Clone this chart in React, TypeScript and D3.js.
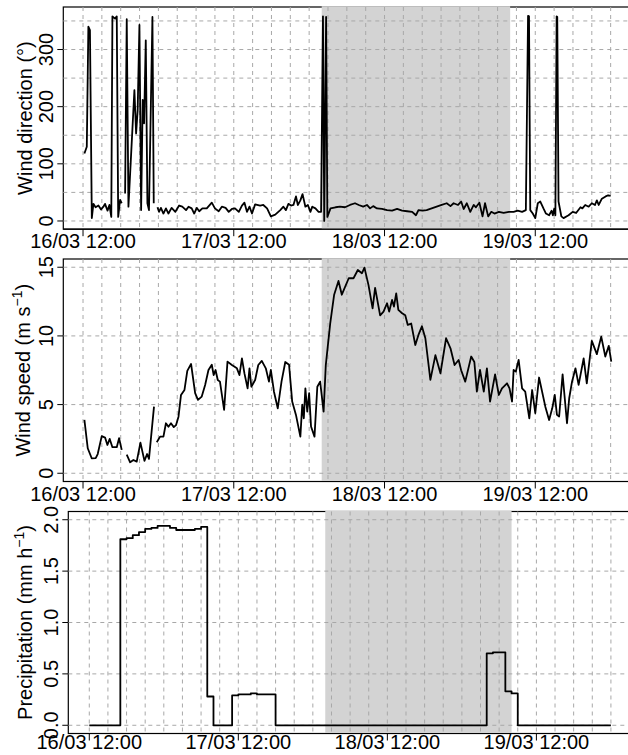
import React, { useEffect, useRef } from "react";
import * as d3 from "d3";

// time origin: 16/03 12:00, all times below are hours after it
const T0 = Date.UTC(2016, 2, 16, 12);

const tickHours = [0, 24, 48, 72];
const tickLabels = ["16/03 12:00", "17/03 12:00", "18/03 12:00", "19/03 12:00"];

// shaded period (18/03 02:00 - 19/03 08:00)
const shadeHours = [38, 68];

const dirTicks = [0, 100, 200, 300];
const dirGrid = [0, 50, 100, 150, 200, 250, 300, 350];
const speedTicks = [0, 5, 10, 15];
const precipTicks = [0, 0.5, 1, 1.5, 2];
const precipTickLabels = ["0.0", "0.5", "1.0", "1.5", "2.0"];

// wind direction (deg), [hour, value], null = missing
const windDirection: [number, number | null][] = [
  [0.22, 118], [0.6, 130], [0.85, 340], [1.1, 334], [1.4, 5], [1.65, 30], [2.0, 24], [2.45, 27],
  [2.87, 20], [3.24, 25], [3.5, 30], [3.9, 18], [4.2, 28], [4.5, 7], [4.68, 358], [5.1, 354],
  [5.37, 358], [5.6, 7], [5.9, 37], [6.16, 31], [6.4, null],
  [6.7, 48], [6.96, 353], [7.23, 25], [8.18, 229], [8.45, 153], [8.7, 194], [8.98, 343], [9.25, 19],
  [9.5, 212], [9.72, 171], [9.99, 316], [10.25, 31], [10.5, 19], [11.05, 357], [11.26, 31], [11.5, null],
  [11.85, 24], [12.1, 16], [12.4, 23], [12.8, 13], [13.2, 22], [13.6, 13], [14.1, 23], [14.7, 16],
  [15.3, 27], [15.8, 25], [16.4, 19], [16.8, 25], [17.3, 22], [17.7, 13], [18.1, 23], [18.5, 17],
  [19.0, 22], [19.7, 22], [20.5, 32], [21.0, 22], [21.6, 17], [22.1, 25], [22.7, 23], [23.2, 16],
  [23.7, 21], [24.2, 22], [24.8, 16], [25.3, 27], [25.7, 32], [26.1, 16], [26.5, 25], [26.9, 13],
  [27.4, 29], [28.2, 27], [28.7, 28], [29.3, 22], [29.9, 8], [30.6, 11], [31.4, 19], [31.9, 25],
  [32.3, 19], [32.7, 30], [33.1, 27], [33.5, 28], [33.9, 43], [34.2, 28], [34.6, 36], [34.95, 47],
  [35.4, 25], [35.8, 28], [36.2, 16], [36.5, 25], [37.0, 22], [37.5, 16], [37.9, 16], [38.2, 358],
  [38.4, 0], [38.7, 357], [38.9, 7], [39.4, 22], [40.2, 24], [40.9, 25], [41.7, 24], [42.5, 28],
  [43.3, 31], [43.9, 28], [44.6, 25], [45.2, 28], [45.7, 22], [46.2, 26], [46.8, 22], [47.6, 21],
  [48.4, 19], [49.2, 18], [50.0, 21], [50.8, 18], [51.6, 17], [52.4, 16], [53.0, 10], [53.4, 19],
  [54.05, 18], [54.7, 19], [55.5, 22], [56.3, 25], [57.1, 28], [57.9, 31], [58.5, 26], [59.0, 31],
  [59.7, 28], [60.2, 34], [60.6, 21], [61.1, 31], [61.65, 16], [62.2, 28], [62.55, 24], [63.1, 32],
  [63.6, 8], [64.0, 31], [64.5, 8], [65.0, 16], [65.5, 13], [66.2, 16], [66.96, 14], [67.8, 16],
  [68.55, 16], [69.2, 18], [69.9, 16], [70.5, 19], [70.85, 359], [71.0, 358], [71.2, 19], [71.6, 13],
  [72.0, 5], [72.4, 31], [72.8, 34], [73.3, 22], [73.7, 13], [74.2, 10], [74.6, 18], [74.8, 10],
  [75.0, 21], [75.2, 10], [75.4, 358], [75.5, 357], [75.7, 34], [76.15, 8], [76.5, 5], [77.3, 10],
  [77.95, 16], [78.5, 14], [79.2, 24], [79.5, 22], [79.95, 28], [80.5, 25], [81.0, 31], [81.5, 28],
  [81.8, 36], [82.1, 28], [82.6, 39], [83.2, 43], [83.6, 45], [84.0, 44],
];

// wind speed (m/s), [hour, value], null = missing
const windSpeed: [number, number | null][] = [
  [0.22, 3.88], [0.75, 1.82], [1.38, 1.09], [2.02, 1.1], [2.34, 1.4], [2.98, 2.7], [3.51, 2.6],
  [3.88, 2.06], [4.25, 2.5], [4.68, 1.9], [5.37, 1.9], [5.74, 2.55], [6.16, 1.7], [6.5, null],
  [6.96, 1.35], [7.5, 0.8], [8.02, 0.97], [8.55, 0.85], [9.14, 2.23], [9.78, 0.9], [10.2, 1.4],
  [10.5, 1.05], [11.3, 4.85], [11.5, null],
  [11.74, 2.26], [12.27, 2.67], [12.8, 2.67], [13.2, 3.64], [13.6, 3.38], [14.0, 3.64], [14.45, 3.36],
  [14.8, 3.5], [15.2, 4.12], [15.6, 5.7], [16.15, 6.07], [16.6, 7.45], [17.2, 7.96], [17.85, 5.83],
  [18.3, 5.34], [18.9, 5.58], [19.44, 6.43], [19.97, 7.52], [20.5, 7.9], [20.8, 7.15], [21.1, 7.52],
  [21.45, 6.79], [21.8, 6.67], [22.46, 4.61], [23.0, 8.13], [23.7, 7.88], [24.5, 7.64], [24.9, 7.15],
  [25.3, 8.37], [25.7, 7.27], [26.2, 6.18], [26.5, 7.64], [26.8, 6.3], [27.4, 6.79], [27.9, 7.88],
  [28.46, 8.18], [29.1, 7.64], [29.6, 6.67], [29.9, 7.52], [30.4, 5.94], [31.0, 4.73], [31.6, 6.67],
  [32.2, 8.1], [32.8, 7.9], [33.3, 5.22], [33.9, 4.25], [34.6, 2.67], [34.9, 5.0], [35.15, 4.0],
  [35.4, 6.18], [35.7, 4.49], [36.0, 5.83], [36.3, 3.4], [36.85, 2.67], [37.3, 6.3], [37.75, 6.67],
  [38.3, 4.49], [38.65, 7.88], [39.35, 10.9], [39.98, 13.0], [40.67, 14.0], [41.2, 13.0], [42.3, 14.2],
  [43.06, 14.2], [43.75, 14.8], [44.4, 14.56], [44.8, 14.97], [45.45, 13.7], [46.1, 12.0], [46.5, 13.5],
  [47.3, 11.5], [47.84, 11.77], [48.4, 12.38], [48.74, 11.77], [49.2, 12.62], [49.5, 12.14],
  [49.86, 13.1], [50.2, 11.9], [50.8, 11.65], [51.3, 11.5], [51.7, 10.8], [52.25, 10.9], [52.9, 9.34],
  [53.4, 10.07], [53.95, 10.7], [54.5, 9.83], [55.3, 6.8], [56.1, 8.6], [56.9, 7.28], [57.8, 9.83],
  [58.5, 9.1], [59.15, 7.88], [59.8, 8.25], [60.2, 7.5], [60.85, 6.67], [61.8, 8.5], [62.3, 8.1],
  [62.7, 5.94], [63.2, 7.52], [63.8, 5.94], [64.3, 7.64], [64.8, 5.22], [65.6, 7.2], [66.2, 5.7],
  [66.7, 6.18], [67.5, 6.55], [67.9, 6.18], [68.3, 5.22], [68.55, 7.52], [68.9, 7.4], [69.35, 8.25],
  [69.9, 6.18], [70.4, 5.94], [71.05, 4.0], [71.5, 6.06], [72.0, 4.37], [72.6, 6.97], [73.6, 4.85],
  [74.2, 3.88], [74.7, 4.73], [75.1, 5.7], [75.45, 4.25], [75.8, 4.13], [76.35, 7.2], [77.05, 3.64],
  [77.4, 5.46], [77.85, 6.67], [78.4, 7.64], [78.9, 6.43], [79.7, 8.37], [80.2, 6.55], [81.0, 9.64],
  [81.8, 8.67], [82.5, 9.95], [83.15, 8.5], [83.7, 9.28], [84.1, 8.13],
];

// hourly precipitation (mm/h), hours 0..84
const precipitation = [
  0, 0, 0, 0, 0, 1.81, 1.82, 1.85, 1.88, 1.91, 1.92, 1.94, 1.94, 1.92, 1.9, 1.9, 1.9, 1.91, 1.93,
  0.28, 0, 0, 0, 0.29, 0.3, 0.3, 0.31, 0.3, 0.3, 0.3,
  0, 0, 0, 0, 0, 0, 0, 0, 0, 0, 0, 0, 0, 0, 0, 0, 0, 0, 0, 0, 0, 0, 0, 0, 0, 0, 0, 0, 0, 0, 0, 0, 0, 0,
  0.7, 0.71, 0.71, 0.33, 0.31,
  0, 0, 0, 0, 0, 0, 0, 0, 0, 0, 0, 0, 0, 0, 0, 0,
];

const FONT = "'Liberation Sans', Arial, Helvetica, sans-serif";
const toDate = (h: number) => new Date(T0 + h * 3600 * 1000);

function drawPanel(root: any, p: any) {
  const g = root.append("g");
  const x = d3.scaleUtc().domain(p.xlim.map(toDate)).range([p.left, p.right]);
  const y = d3.scaleLinear().domain(p.ylim).range([p.bottom, p.top]);

  // box
  g.append("rect")
    .attr("x", p.left)
    .attr("y", p.top)
    .attr("width", p.right - p.left)
    .attr("height", p.bottom - p.top)
    .attr("fill", "none")
    .attr("stroke", "#000")
    .attr("stroke-width", 1.2);

  // shaded period
  const x0 = x(toDate(shadeHours[0]));
  const x1 = x(toDate(shadeHours[1]));
  g.append("rect")
    .attr("x", x0)
    .attr("y", p.top - 0.8)
    .attr("width", x1 - x0)
    .attr("height", p.bottom - p.top + 0.8)
    .attr("fill", "#d3d3d3");

  // grid, every 3 hours
  const gridHours = d3.range(0, 85, 3);
  g.selectAll(".vgrid")
    .data(gridHours)
    .enter()
    .append("line")
    .attr("x1", (d: number) => x(toDate(d)))
    .attr("x2", (d: number) => x(toDate(d)))
    .attr("y1", p.top)
    .attr("y2", p.bottom)
    .attr("stroke", "#a8a8a8")
    .attr("stroke-width", 1)
    .attr("stroke-dasharray", "4,4");
  g.selectAll(".hgrid")
    .data(p.yGrid)
    .enter()
    .append("line")
    .attr("x1", p.left)
    .attr("x2", p.right)
    .attr("y1", (d: number) => y(d))
    .attr("y2", (d: number) => y(d))
    .attr("stroke", "#a8a8a8")
    .attr("stroke-width", 1)
    .attr("stroke-dasharray", "4,4");

  // bottom axis line
  g.append("line")
    .attr("x1", p.left)
    .attr("x2", p.right)
    .attr("y1", p.bottom)
    .attr("y2", p.bottom)
    .attr("stroke", "#000")
    .attr("stroke-width", 1.2);

  // data
  const line = d3
    .line<[number, number | null]>()
    .defined((d) => d[1] != null)
    .x((d) => x(toDate(d[0])))
    .y((d) => y(d[1] as number));
  if (p.step) line.curve(d3.curveStepAfter);
  g.append("path")
    .attr("d", line(p.data))
    .attr("fill", "none")
    .attr("stroke", "#000")
    .attr("stroke-width", 1.8)
    .attr("stroke-linejoin", "round");

  // x ticks + labels
  tickHours.forEach((h, i) => {
    const xx = x(toDate(h));
    g.append("line")
      .attr("x1", xx)
      .attr("x2", xx)
      .attr("y1", p.bottom)
      .attr("y2", p.bottom + 7)
      .attr("stroke", "#000")
      .attr("stroke-width", 1);
    g.append("text")
      .text(tickLabels[i])
      .attr("x", xx)
      .attr("y", p.bottom + p.xLabelDy)
      .attr("text-anchor", "middle")
      .style("font-family", FONT)
      .style("font-size", "20px");
  });

  // y ticks + labels
  p.yTicks.forEach((v: number, i: number) => {
    g.append("line")
      .attr("x1", p.left - 6)
      .attr("x2", p.left)
      .attr("y1", y(v))
      .attr("y2", y(v))
      .attr("stroke", "#000")
      .attr("stroke-width", 1);
    g.append("text")
      .text(p.yTickLabels[i])
      .attr("transform", "translate(" + (p.left - 10) + "," + y(v) + ") rotate(-90)")
      .attr("text-anchor", "middle")
      .style("font-family", FONT)
      .style("font-size", "20px");
  });

  // y title
  const title = g
    .append("text")
    .attr("transform", "translate(" + p.titleX + "," + (p.top + p.bottom) / 2 + ") rotate(-90)")
    .attr("text-anchor", "middle")
    .style("font-family", FONT)
    .style("font-size", "20px");
  title.append("tspan").text(p.title[0]);
  if (p.title.length > 1) {
    title.append("tspan").attr("dy", -8).style("font-size", "14px").text(p.title[1]);
    title.append("tspan").attr("dy", 8).text(p.title[2]);
  }
}

export default function App() {
  const ref = useRef<SVGSVGElement>(null);

  useEffect(() => {
    const svg = d3.select(ref.current);
    svg.selectAll("*").remove();

    drawPanel(svg, {
      top: 7,
      bottom: 229.2,
      left: 63.3,
      right: 629.5,
      xlim: [-3.14, 87.0],
      ylim: [-14.4, 374.4],
      yGrid: dirGrid,
      yTicks: dirTicks,
      yTickLabels: dirTicks.map(String),
      xLabelDy: 19,
      titleX: 32,
      title: ["Wind direction (°)"],
      data: windDirection,
    });

    drawPanel(svg, {
      top: 259,
      bottom: 481.5,
      left: 63.3,
      right: 629.5,
      xlim: [-3.14, 87.0],
      ylim: [-0.6, 15.6],
      yGrid: speedTicks,
      yTicks: speedTicks,
      yTickLabels: speedTicks.map(String),
      xLabelDy: 19,
      titleX: 30,
      title: ["Wind speed (m s", "\u22121", ")"],
      data: windSpeed,
    });

    drawPanel(svg, {
      top: 511.5,
      bottom: 733.5,
      left: 68.3,
      right: 631.9,
      xlim: [-3.38, 87.38],
      ylim: [-0.08, 2.08],
      yGrid: precipTicks,
      yTicks: precipTicks,
      yTickLabels: precipTickLabels,
      xLabelDy: 15,
      titleX: 32,
      title: ["Precipitation (mm h", "\u22121", ")"],
      data: precipitation.map((v, i) => [i, v]),
      step: true,
    });
  }, []);

  return (
    <svg
      ref={ref}
      width={628}
      height={755}
      style={{ position: "absolute", left: 0, top: 0, background: "#fff", display: "block" }}
    />
  );
}
